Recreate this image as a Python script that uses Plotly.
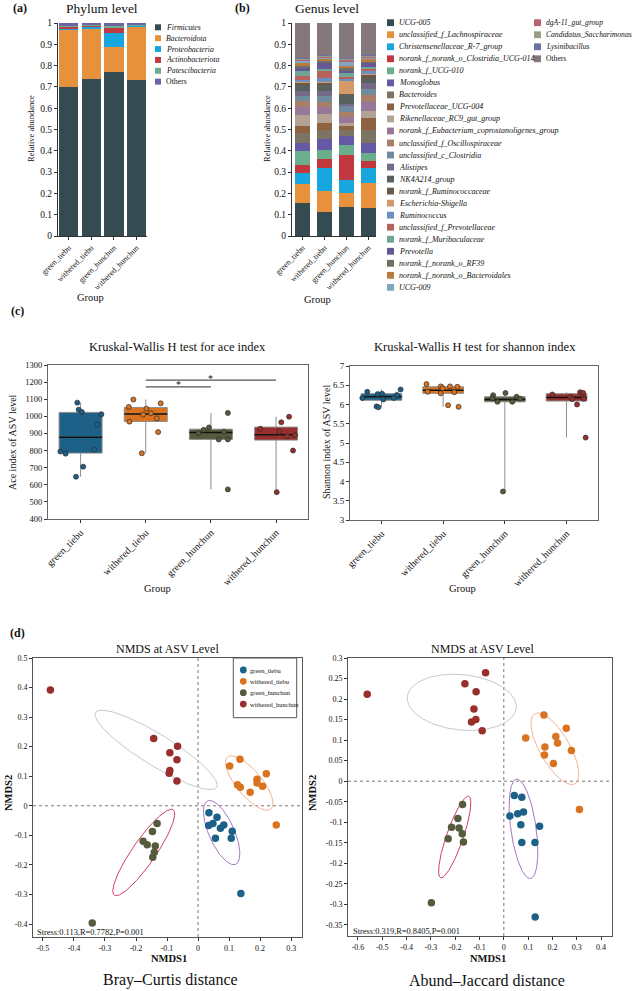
import numpy as np
import plotly.graph_objects as go

W, H = 640, 991
FONT = "Liberation Serif"
AX = "#333333"
TXT = "#111111"

# ---------------- data ----------------
groups = ["green_tiebu", "withered_tiebu", "green_hunchun", "withered_hunchun"]
group_colors = ["#1d6189", "#d9731f", "#555b3c", "#992f2c"]

# (a) phylum level
phylum_names = ["Firmicutes", "Bacteroidota", "Proteobacteria", "Actinobacteriota", "Patescibacteria", "Others"]
phylum_colors = ["#344b52", "#e8913d", "#18a6de", "#c1393e", "#6aae8e", "#6d64a6"]
phylum_green_tiebu = [0.700, 0.268, 0.003, 0.012, 0.005, 0.012]
phylum_withered_tiebu = [0.737, 0.234, 0.010, 0.004, 0.006, 0.009]
phylum_green_hunchun = [0.768, 0.120, 0.067, 0.020, 0.013, 0.012]
phylum_withered_hunchun = [0.732, 0.250, 0.002, 0.004, 0.004, 0.008]

# (b) genus level
genus_names = ["UCG-005", "unclassified_f_Lachnospiraceae", "Christensenellaceae_R-7_group",
               "norank_f_norank_o_Clostridia_UCG-014", "norank_f_UCG-010", "Monoglobus", "Bacteroides",
               "Prevotellaceae_UCG-004", "Rikenellaceae_RC9_gut_group",
               "norank_f_Eubacterium_coprostanoligenes_group", "unclassified_f_Oscillospiraceae",
               "unclassified_c_Clostridia", "Alistipes", "NK4A214_group", "norank_f_Ruminococcaceae",
               "Escherichia-Shigella", "Ruminococcus", "unclassified_f_Prevotellaceae",
               "norank_f_Muribaculaceae", "Prevotella", "norank_f_norank_o_RF39",
               "norank_f_norank_o_Bacteroidales", "UCG-009", "dgA-11_gut_group",
               "Candidatus_Saccharimonas", "Lysinibacillus", "Others"]
genus_colors = ["#344b52", "#e8913d", "#18a6de", "#c1393e", "#6aae8e", "#6559a6", "#7b7463",
                "#8e6240", "#b2a395", "#987898", "#a97f68", "#6f8b9e", "#776988", "#5a6261",
                "#675a48", "#d49a69", "#6d90c3", "#b9615b", "#6fa596", "#665894", "#6f6f67",
                "#b87c42", "#7fa6c1", "#b76470", "#969e86", "#6a71a3", "#85787d"]
genus_green_tiebu = [0.153, 0.092, 0.049, 0.038, 0.068, 0.038, 0.044, 0.035, 0.052, 0.039, 0.027,
                     0.021, 0.026, 0.029, 0.008, 0.003, 0.012, 0.016, 0.025, 0.015, 0.008, 0.015,
                     0.008, 0.007, 0.004, 0.003, 0.165]
genus_withered_tiebu = [0.111, 0.102, 0.105, 0.042, 0.046, 0.049, 0.043, 0.031, 0.044, 0.035, 0.019,
                        0.032, 0.020, 0.032, 0.008, 0.004, 0.020, 0.030, 0.010, 0.030, 0.008, 0.008,
                        0.006, 0.005, 0.005, 0.003, 0.152]
genus_green_hunchun = [0.137, 0.064, 0.063, 0.118, 0.045, 0.044, 0.027, 0.019, 0.015, 0.029, 0.019,
                       0.031, 0.010, 0.043, 0.005, 0.060, 0.008, 0.008, 0.018, 0.012, 0.012, 0.012,
                       0.020, 0.005, 0.005, 0.005, 0.166]
genus_withered_hunchun = [0.133, 0.117, 0.070, 0.030, 0.040, 0.048, 0.060, 0.055, 0.035, 0.042, 0.030,
                          0.030, 0.028, 0.020, 0.020, 0.003, 0.012, 0.012, 0.010, 0.015, 0.008, 0.012,
                          0.006, 0.005, 0.004, 0.003, 0.152]

bar_ticks = [0, 0.1, 0.2, 0.3, 0.4, 0.5, 0.6, 0.7, 0.8, 0.9, 1]

# (c) ace index
ace_green_tiebu = [1080, 1039, 1025, 1012, 951, 806, 794, 782, 706, 647]
ace_withered_tiebu = [1098, 1055, 1076, 1045, 1018, 1010, 988, 969, 908, 784]
ace_green_hunchun = [1020, 935, 921, 902, 910, 865, 865, 573]
ace_withered_hunchun = [998, 965, 928, 910, 884, 890, 800, 557]
ace_jitter_green_tiebu = [-0.05, -0.03, 0.02, 0.32, 0.26, 0.21, -0.31, -0.23, 0.04, -0.07]
ace_jitter_withered_tiebu = [-0.19, -0.26, 0.23, 0.01, 0.08, -0.04, 0.17, -0.25, 0.19, -0.06]
ace_jitter_green_hunchun = [0.26, -0.03, -0.11, -0.19, 0.20, 0.12, 0.26, 0.26]
ace_jitter_withered_hunchun = [0.20, 0.08, -0.24, 0.05, 0.17, 0.29, 0.26, 0.01]
ace_q1 = [785, 970, 865, 861]
ace_median = [878, 1013, 905, 893]
ace_q3 = [1023, 1052, 925, 937]
ace_lower = [647, 784, 573, 557]
ace_upper = [1080, 1098, 1020, 998]
ace_ticks = [400, 500, 600, 700, 800, 900, 1000, 1100, 1200, 1300]
sig_from = [1, 1]
sig_to = [2, 3]
sig_y = [1172, 1212]
sig_text = ["*", "*"]

# (c) shannon index
sh_green_tiebu = [6.33, 6.39, 6.27, 6.28, 6.17, 5.95, 5.93, 6.13, 6.17, 6.25]
sh_withered_tiebu = [6.53, 6.47, 6.47, 6.46, 6.42, 6.33, 6.29, 6.32, 5.98, 5.94]
sh_green_hunchun = [6.24, 6.30, 6.07, 6.07, 6.20, 6.15, 6.16, 3.74]
sh_withered_hunchun = [6.26, 6.20, 6.14, 6.32, 6.30, 6.15, 6.00, 5.14]
sh_jitter_green_tiebu = [-0.23, 0.31, -0.06, 0.01, -0.31, -0.08, -0.05, 0.03, 0.20, 0.25]
sh_jitter_withered_tiebu = [-0.27, -0.04, 0.11, 0.23, -0.01, -0.25, -0.04, 0.18, 0.08, 0.25]
sh_jitter_green_hunchun = [-0.19, 0.01, -0.12, 0.12, 0.19, 0.25, -0.20, -0.03]
sh_jitter_withered_hunchun = [-0.23, 0.06, 0.09, 0.22, 0.27, 0.28, 0.17, 0.31]
sh_q1 = [6.11, 6.29, 6.07, 6.09]
sh_median = [6.20, 6.37, 6.13, 6.18]
sh_q3 = [6.28, 6.46, 6.20, 6.28]
sh_lower = [5.93, 5.94, 3.74, 5.14]
sh_upper = [6.39, 6.53, 6.30, 6.32]
sh_ticks = [3, 3.5, 4, 4.5, 5, 5.5, 6, 6.5, 7]

# (d) NMDS Bray-Curtis
bc_x_green_tiebu = [0.035, 0.061, 0.048, 0.034, 0.083, 0.072, 0.110, 0.056, 0.107, 0.138]
bc_y_green_tiebu = [-0.024, -0.039, -0.060, -0.067, -0.065, -0.076, -0.086, -0.110, -0.110, -0.297]
bc_x_withered_tiebu = [0.135, 0.102, 0.220, 0.190, 0.190, 0.127, 0.136, 0.208, 0.168, 0.252]
bc_y_withered_tiebu = [0.157, 0.135, 0.108, 0.090, 0.077, 0.071, 0.063, 0.066, 0.046, -0.065]
bc_x_green_hunchun = [-0.132, -0.147, -0.177, -0.164, -0.138, -0.141, -0.146, -0.341]
bc_y_green_hunchun = [-0.060, -0.087, -0.120, -0.132, -0.136, -0.157, -0.174, -0.397]
bc_x_withered_hunchun = [-0.476, -0.143, -0.066, -0.091, -0.068, -0.091, -0.093, -0.068]
bc_y_withered_hunchun = [0.392, 0.228, 0.201, 0.179, 0.156, 0.119, 0.110, 0.084]
# ellipses: centre and two semi-axis vectors (data units), per group
bc_ell_cx = [0.076, 0.165, -0.175, -0.135]
bc_ell_cy = [-0.0906, 0.077, -0.158, 0.189]
bc_ell_ax = [0.0452, 0.070, 0.0948, 0.195]
bc_ell_ay = [-0.1073, -0.088, 0.1445, -0.1265]
bc_ell_bx = [0.0375, 0.0314, 0.031, -0.0265]
bc_ell_by = [0.0174, 0.0274, -0.0224, -0.0450]
bc_x_ticks = [-0.5, -0.4, -0.3, -0.2, -0.1, 0, 0.1, 0.2, 0.3]
bc_y_ticks = [-0.4, -0.3, -0.2, -0.1, 0, 0.1, 0.2, 0.3, 0.4, 0.5]
bc_stats = "Stress:0.113,R=0.7782,P=0.001"

# (d) NMDS Abund-Jaccard
jc_x_green_tiebu = [0.043, 0.074, 0.025, 0.057, 0.081, 0.070, 0.147, 0.074, 0.128, 0.129]
jc_y_green_tiebu = [-0.035, -0.039, -0.085, -0.079, -0.075, -0.106, -0.110, -0.149, -0.149, -0.331]
jc_x_withered_tiebu = [0.165, 0.257, 0.090, 0.214, 0.221, 0.169, 0.278, 0.167, 0.204, 0.311]
jc_y_withered_tiebu = [0.161, 0.129, 0.105, 0.109, 0.093, 0.083, 0.075, 0.064, 0.043, -0.069]
jc_x_green_hunchun = [-0.170, -0.189, -0.215, -0.184, -0.171, -0.229, -0.166, -0.298]
jc_y_green_hunchun = [-0.057, -0.091, -0.112, -0.114, -0.128, -0.140, -0.148, -0.296]
jc_x_withered_hunchun = [-0.562, -0.075, -0.160, -0.114, -0.123, -0.115, -0.133, -0.089]
jc_y_withered_hunchun = [0.212, 0.264, 0.237, 0.218, 0.176, 0.150, 0.144, 0.123]
jc_ell_cx = [0.081, 0.210, -0.202, -0.173]
jc_ell_cy = [-0.116, 0.079, -0.136, 0.192]
jc_ell_ax = [0.0288, 0.0824, 0.0577, 0.224]
jc_ell_ay = [-0.121, -0.0853, 0.0991, -0.0138]
jc_ell_bx = [0.0516, 0.0536, 0.0326, -0.0118]
jc_ell_by = [0.0043, 0.0181, -0.0066, -0.0671]
jc_x_ticks = [-0.6, -0.5, -0.4, -0.3, -0.2, -0.1, 0, 0.1, 0.2, 0.3, 0.4]
jc_y_ticks = [-0.35, -0.3, -0.25, -0.2, -0.15, -0.1, -0.05, 0, 0.05, 0.1, 0.15, 0.2, 0.25, 0.3]
jc_stats = "Stress:0.319,R=0.8405,P=0.001"
ellipse_colors = ["#a576c4", "#f4b18e", "#d33d68", "#c5c9cc"]


def lab(v):
    return [f"{t:g}" for t in v]


# ---------------- helpers ----------------
def dom_x(l, r):
    return [l / W, r / W]


def dom_y(t, b):
    return [1 - b / H, 1 - t / H]


annotations = []
shapes = []


def ann(x, y, text, size, xanchor="center", yanchor="middle", angle=0, color=TXT):
    annotations.append(dict(x=x / W, y=1 - y / H, xref="paper", yref="paper", text=text,
                            showarrow=False, textangle=angle, xanchor=xanchor, yanchor=yanchor,
                            font=dict(family=FONT, size=size, color=color)))


def swatch(x0, y0, x1, y1, color):
    shapes.append(dict(type="rect", xref="paper", yref="paper", x0=x0 / W, x1=x1 / W,
                       y0=1 - y1 / H, y1=1 - y0 / H, fillcolor=color, line=dict(width=0)))


fig = go.Figure()
xs = [0, 1, 2, 3]

# ---------------- (a) ----------------
phylum_cols = [phylum_green_tiebu, phylum_withered_tiebu, phylum_green_hunchun, phylum_withered_hunchun]
for k, name in enumerate(phylum_names):
    fig.add_trace(go.Bar(x=xs, y=[c[k] for c in phylum_cols], width=0.86, name=name,
                         marker=dict(color=phylum_colors[k], line=dict(width=0)),
                         xaxis="x", yaxis="y", hoverinfo="skip"))

# ---------------- (b) ----------------
genus_cols = [genus_green_tiebu, genus_withered_tiebu, genus_green_hunchun, genus_withered_hunchun]
for k, name in enumerate(genus_names):
    fig.add_trace(go.Bar(x=xs, y=[c[k] for c in genus_cols], width=0.68, name=name,
                         marker=dict(color=genus_colors[k], line=dict(width=0)),
                         xaxis="x2", yaxis="y2", hoverinfo="skip"))


# ---------------- (c) ----------------
def box_panel(xa, ya, vals, jits, q1, med, q3, lo, hi, bw):
    for i in range(4):
        fig.add_trace(go.Box(x=[i], q1=[q1[i]], median=[med[i]], q3=[q3[i]],
                             lowerfence=[lo[i]], upperfence=[hi[i]], width=bw, whiskerwidth=0,
                             fillcolor=group_colors[i], line=dict(color="#8f8f8f", width=1),
                             boxpoints=False, xaxis=xa, yaxis=ya, hoverinfo="skip"))
        fig.add_trace(go.Scatter(x=[i - bw / 2, i + bw / 2], y=[med[i], med[i]], mode="lines",
                                 line=dict(color="#111111", width=1.5), xaxis=xa, yaxis=ya,
                                 hoverinfo="skip"))
    for i in range(4):
        fig.add_trace(go.Scatter(x=np.array(jits[i]) + i, y=vals[i], mode="markers",
                                 marker=dict(size=5, color=group_colors[i],
                                             line=dict(color="#2b2b2b", width=0.7)),
                                 xaxis=xa, yaxis=ya, hoverinfo="skip"))


box_panel("x3", "y3",
          [ace_green_tiebu, ace_withered_tiebu, ace_green_hunchun, ace_withered_hunchun],
          [ace_jitter_green_tiebu, ace_jitter_withered_tiebu, ace_jitter_green_hunchun, ace_jitter_withered_hunchun],
          ace_q1, ace_median, ace_q3, ace_lower, ace_upper, 0.66)
box_panel("x4", "y4",
          [sh_green_tiebu, sh_withered_tiebu, sh_green_hunchun, sh_withered_hunchun],
          [sh_jitter_green_tiebu, sh_jitter_withered_tiebu, sh_jitter_green_hunchun, sh_jitter_withered_hunchun],
          sh_q1, sh_median, sh_q3, sh_lower, sh_upper, 0.66)

for f, t, yv, s in zip(sig_from, sig_to, sig_y, sig_text):
    shapes.append(dict(type="line", xref="x3", yref="y3", x0=f, x1=t, y0=yv, y1=yv,
                       line=dict(color="#555555", width=1.3)))
    annotations.append(dict(x=(f + t) / 2, y=yv + 12, xref="x3", yref="y3", text=s, showarrow=False,
                            font=dict(family=FONT, size=10, color=TXT), yanchor="middle"))

# ---------------- (d) ----------------
tt = np.linspace(0, 2 * np.pi, 240)


def nmds_panel(xa, ya, xsets, ysets, cx, cy, axv, ayv, bxv, byv):
    for i in range(4):
        ex = cx[i] + axv[i] * np.cos(tt) + bxv[i] * np.sin(tt)
        ey = cy[i] + ayv[i] * np.cos(tt) + byv[i] * np.sin(tt)
        fig.add_trace(go.Scatter(x=ex, y=ey, mode="lines", line=dict(color=ellipse_colors[i], width=1),
                                 xaxis=xa, yaxis=ya, hoverinfo="skip"))
    for i in range(4):
        fig.add_trace(go.Scatter(x=xsets[i], y=ysets[i], mode="markers",
                                 marker=dict(size=7.5, color=group_colors[i], line=dict(width=0)),
                                 xaxis=xa, yaxis=ya, hoverinfo="skip"))
    shapes.append(dict(type="line", xref=xa, yref=ya + " domain", x0=0, x1=0, y0=0, y1=1,
                       line=dict(color="#777777", width=1, dash="dot"), layer="below"))
    shapes.append(dict(type="line", xref=xa + " domain", yref=ya, x0=0, x1=1, y0=0, y1=0,
                       line=dict(color="#777777", width=1, dash="dot"), layer="below"))


nmds_panel("x5", "y5",
           [bc_x_green_tiebu, bc_x_withered_tiebu, bc_x_green_hunchun, bc_x_withered_hunchun],
           [bc_y_green_tiebu, bc_y_withered_tiebu, bc_y_green_hunchun, bc_y_withered_hunchun],
           bc_ell_cx, bc_ell_cy, bc_ell_ax, bc_ell_ay, bc_ell_bx, bc_ell_by)
nmds_panel("x6", "y6",
           [jc_x_green_tiebu, jc_x_withered_tiebu, jc_x_green_hunchun, jc_x_withered_hunchun],
           [jc_y_green_tiebu, jc_y_withered_tiebu, jc_y_green_hunchun, jc_y_withered_hunchun],
           jc_ell_cx, jc_ell_cy, jc_ell_ax, jc_ell_ay, jc_ell_bx, jc_ell_by)

# ---------------- axes ----------------
base = dict(showgrid=False, zeroline=False, showline=True, linecolor=AX, linewidth=1,
            ticks="outside", ticklen=3, tickcolor=AX, tickwidth=1, automargin=False)


def axis(**kw):
    d = dict(base)
    d.update(kw)
    return d


layout = dict(
    width=W, height=H, autosize=False, margin=dict(l=0, r=0, t=0, b=0, pad=0, autoexpand=False),
    paper_bgcolor="white", plot_bgcolor="white", hovermode=False,
    showlegend=False, barmode="stack", boxmode="overlay", font=dict(family=FONT, color=TXT),
    xaxis=axis(domain=dom_x(58, 147), range=[-0.47, 3.46], tickvals=xs, ticktext=groups, tickangle=-45,
               tickfont=dict(size=8), anchor="y"),
    yaxis=axis(domain=dom_y(23, 236), range=[0, 1], tickvals=bar_ticks, ticktext=lab(bar_ticks),
               tickfont=dict(size=9.5), anchor="x"),
    xaxis2=axis(domain=dom_x(292, 376), range=[-0.48, 3.34], tickvals=xs, ticktext=groups, tickangle=-45,
                tickfont=dict(size=8), anchor="y2"),
    yaxis2=axis(domain=dom_y(23, 236), range=[0, 1], tickvals=bar_ticks, ticktext=lab(bar_ticks),
                tickfont=dict(size=9.5), anchor="x2"),
    xaxis3=axis(domain=dom_x(48, 308), range=[-0.50, 3.49], tickvals=xs, ticktext=groups, tickangle=-45,
                tickfont=dict(size=10), anchor="y3", mirror=True, linecolor="#666666"),
    yaxis3=axis(domain=dom_y(365, 519), range=[400, 1300], tickvals=ace_ticks, ticktext=lab(ace_ticks),
                tickfont=dict(size=8.5), anchor="x3", mirror=True, linecolor="#666666"),
    xaxis4=axis(domain=dom_x(350, 598), range=[-0.51, 3.51], tickvals=xs, ticktext=groups, tickangle=-45,
                tickfont=dict(size=10), anchor="y4", mirror=True, linecolor="#666666"),
    yaxis4=axis(domain=dom_y(366, 520), range=[3, 7], tickvals=sh_ticks, ticktext=lab(sh_ticks),
                tickfont=dict(size=9), anchor="x4", mirror=True, linecolor="#666666"),
    xaxis5=axis(domain=dom_x(33, 302), range=[-0.532, 0.335], tickvals=bc_x_ticks, ticktext=lab(bc_x_ticks),
                tickfont=dict(size=8), anchor="y5", mirror=True, linecolor="#555555"),
    yaxis5=axis(domain=dom_y(658, 937), range=[-0.444, 0.5], tickvals=bc_y_ticks, ticktext=lab(bc_y_ticks),
                tickfont=dict(size=8), anchor="x5", mirror=True, linecolor="#555555"),
    xaxis6=axis(domain=dom_x(348, 612), range=[-0.641, 0.445], tickvals=jc_x_ticks, ticktext=lab(jc_x_ticks),
                tickfont=dict(size=8), anchor="y6", mirror=True, linecolor="#555555"),
    yaxis6=axis(domain=dom_y(658, 936), range=[-0.377, 0.3], tickvals=jc_y_ticks, ticktext=lab(jc_y_ticks),
                tickfont=dict(size=8), anchor="x6", mirror=True, linecolor="#555555"),
)

# ---------------- text ----------------
ann(20, 8, "<b>(a)</b>", 12)
ann(242, 8, "<b>(b)</b>", 12)
ann(17, 311, "<b>(c)</b>", 12)
ann(17, 633, "<b>(d)</b>", 12)
ann(102, 8, "Phylum level", 13.5)
ann(327, 8, "Genus level", 13.5)
ann(31, 129, "Relative abundance", 8.5, angle=-90)
ann(267, 129, "Relative abundance", 8.5, angle=-90)
ann(90, 297, "Group", 10.5)
ann(317, 299, "Group", 10.5)
ann(177, 347, "Kruskal-Wallis H test for ace index", 12.5)
ann(475, 347, "Kruskal-Wallis H test for shannon index", 12.5)
ann(12, 442, "Ace index of ASV level", 10, angle=-90)
ann(326, 442, "Shannon index of ASV level", 10, angle=-90)
ann(157, 588, "Group", 10.5)
ann(462, 588, "Group", 10.5)
ann(167, 649, "NMDS at ASV Level", 12)
ann(482, 649, "NMDS at ASV Level", 12)
ann(169, 958, "<b>NMDS1</b>", 10.5)
ann(488, 958, "<b>NMDS1</b>", 10.5)
ann(8, 793, "<b>NMDS2</b>", 10.5, angle=-90)
ann(312, 793, "<b>NMDS2</b>", 10.5, angle=-90)
ann(170, 980, "Bray\u2013Curtis distance", 16)
ann(487, 980, "Abund\u2013Jaccard distance", 16)
ann(35, 932, bc_stats, 8.4, xanchor="left")
ann(351, 931, jc_stats, 8.4, xanchor="left")

# phylum legend
for i, name in enumerate(phylum_names):
    yc = 27.3 + i * 10.87
    swatch(155, yc - 3, 161, yc + 3, phylum_colors[i])
    ann(163.5, yc, name if name == "Others" else f"<i>{name}</i>", 7.8, xanchor="left")

# genus legend (two columns)
n_col1 = 23
for i, name in enumerate(genus_names):
    col, row = (0, i) if i < n_col1 else (1, i - n_col1)
    x0 = 387 if col == 0 else 534
    yc = 22.7 + row * 12.03
    swatch(x0, yc - 3.4, x0 + 7, yc + 3.4, genus_colors[i])
    ann(x0 + 10, yc, name if name == "Others" else f"<i>{name}</i>", 8 if col == 0 else 7.6,
        xanchor="left")

# NMDS legend box
shapes.append(dict(type="rect", xref="paper", yref="paper", x0=233.3 / W, x1=296.7 / W,
                   y0=1 - 717.7 / H, y1=1 - 658 / H, line=dict(color="#555555", width=1),
                   fillcolor="rgba(0,0,0,0)"))
for i, g in enumerate(groups):
    yc = 670 + i * 11.35
    shapes.append(dict(type="circle", xref="paper", yref="paper", x0=(243.3 - 3.4) / W,
                       x1=(243.3 + 3.4) / W, y0=1 - (yc + 3.4) / H, y1=1 - (yc - 3.4) / H,
                       fillcolor=group_colors[i], line=dict(width=0)))
    ann(247.5, yc, g, 6.5, xanchor="left")

layout["annotations"] = annotations
layout["shapes"] = shapes
fig.update_layout(**layout)
fig.write_html("out.html", config={"displayModeBar": False, "staticPlot": True},
               post_script="document.body.style.margin='0px';document.body.style.overflow='hidden';")
